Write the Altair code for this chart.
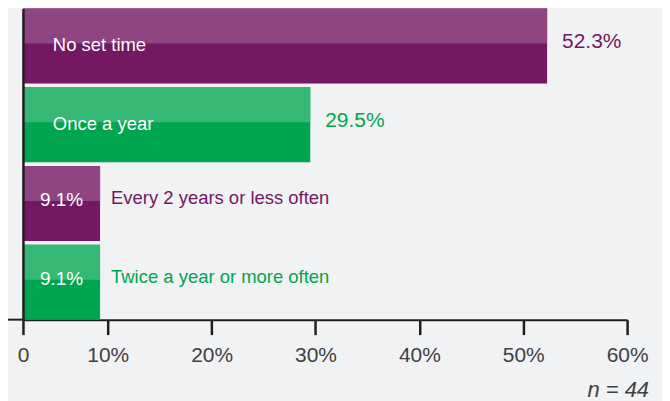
import altair as alt
import pandas as pd

# ---- data ----
categories = ["No set time", "Once a year", "Every 2 years or less often", "Twice a year or more often"]
values = [52.3, 29.5, 9.1, 9.1]
tick_values = [0, 10, 20, 30, 40, 50, 60]
note = "n = 44"

# ---- styles ----
dark_colors = ["#751763", "#00a54f", "#751763", "#00a54f"]
light_colors = ["#8e4581", "#35b874", "#8e4581", "#35b874"]
FONT = "Liberation Sans"
AXIS_COLOR = "#231f20"

df = pd.DataFrame({"category": categories, "value": values})

W, H = 606, 312

x_scale = alt.Scale(domain=[0, 10, 60], range=[0, 85, W], nice=False, zero=False)
y_scale = alt.Scale(domain=categories, paddingInner=0.05, paddingOuter=0)
dark_scale = alt.Scale(domain=categories, range=dark_colors)
light_scale = alt.Scale(domain=categories, range=light_colors)

x_axis = alt.Axis(
    values=tick_values,
    labelExpr="datum.value == 0 ? '0' : datum.value + '%'",
    title=None, grid=False, tickSize=15, tickWidth=2.5, tickColor=AXIS_COLOR,
    domainColor=AXIS_COLOR, domainWidth=2, labelFontSize=21, labelColor="#404040",
    labelFont=FONT, labelPadding=10, labelFlush=False, labelOverlap=False,
)
y_axis = alt.Axis(labels=False, ticks=False, title=None, grid=False,
                  domainColor=AXIS_COLOR, domainWidth=2.5, zindex=1)

base = alt.Chart(df)

bars = base.mark_bar().encode(
    x=alt.X("value:Q", scale=x_scale, axis=x_axis),
    y=alt.Y("category:N", scale=y_scale, axis=y_axis, sort=categories),
    color=alt.Color("category:N", scale=dark_scale, legend=None),
)

gloss = base.mark_bar(height=35, yOffset=-20).encode(
    x=alt.X("value:Q", scale=x_scale),
    y=alt.Y("category:N", scale=y_scale, sort=categories),
    color=alt.Color("category:N", scale=light_scale, legend=None),
)

label_calc = "format(datum.value, '.1f') + '%'"

inner_names = base.transform_filter("datum.value > 20").mark_text(
    align="left", baseline="alphabetic", dx=30, dy=5, fontSize=18.5, font=FONT, color="white"
).encode(
    x=alt.datum(0),
    y=alt.Y("category:N", scale=y_scale, sort=categories),
    text="category:N",
)

outer_values = base.transform_filter("datum.value > 20").transform_calculate(
    label=label_calc
).mark_text(
    align="left", baseline="alphabetic", dx=15, dy=2, fontSize=21, font=FONT
).encode(
    x=alt.X("value:Q", scale=x_scale),
    y=alt.Y("category:N", scale=y_scale, sort=categories),
    text="label:N",
    color=alt.Color("category:N", scale=dark_scale, legend=None),
)

inner_values = base.transform_filter("datum.value <= 20").transform_calculate(
    label=label_calc, mid="datum.value / 2"
).mark_text(
    align="center", baseline="alphabetic", dy=3, fontSize=19, font=FONT, color="white"
).encode(
    x=alt.X("mid:Q", scale=x_scale),
    y=alt.Y("category:N", scale=y_scale, sort=categories),
    text="label:N",
)

outer_names = base.transform_filter("datum.value <= 20").mark_text(
    align="left", baseline="alphabetic", dx=11, dy=1, fontSize=18.5, font=FONT
).encode(
    x=alt.X("value:Q", scale=x_scale),
    y=alt.Y("category:N", scale=y_scale, sort=categories),
    text="category:N",
    color=alt.Color("category:N", scale=dark_scale, legend=None),
)

axis_ext = alt.Chart(pd.DataFrame({"k": [0]})).mark_rule(
    color=AXIS_COLOR, strokeWidth=2
).encode(x=alt.value(-15), x2=alt.value(0), y=alt.value(H))

note_text = alt.Chart(pd.DataFrame({"note": [note]})).mark_text(
    align="right", baseline="alphabetic", fontSize=22, font=FONT,
    fontStyle="italic", color="#404040"
).encode(x=alt.value(628), y=alt.value(390), text="note:N")

chart = alt.layer(
    bars, gloss, inner_names, outer_values, inner_values, outer_names, axis_ext, note_text
).resolve_scale(color="independent").properties(
    width=W, height=H,
    autosize=alt.AutoSizeParams(type="none"),
    padding={"left": 15, "top": 0, "right": 35, "bottom": 81},
    background="#f1f2f4",
).configure_view(stroke=None)

chart.save("out.html", embed_options={"renderer": "svg", "actions": False})
